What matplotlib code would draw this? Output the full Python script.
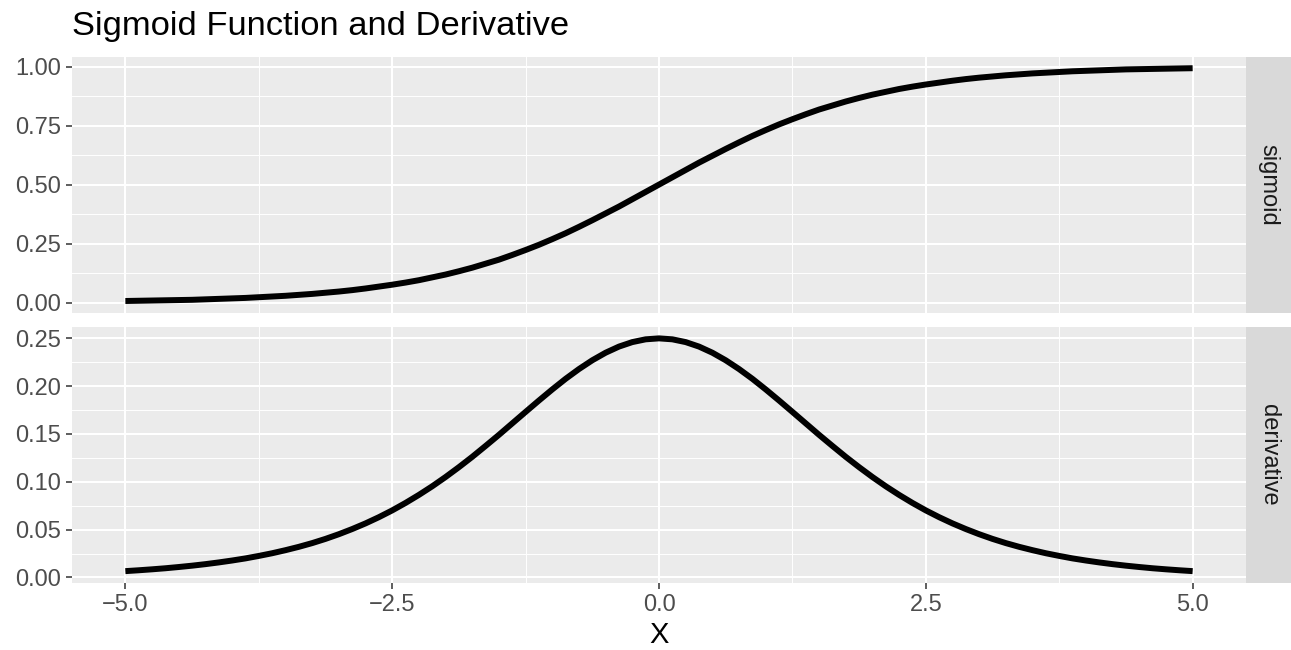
import numpy as np
import matplotlib.pyplot as plt

# x positions the curves were read at (every 0.125 from -5 to 5)
x_vals = np.linspace(-5, 5, 81)

# values
sigmoid_vals = [0.007, 0.008, 0.009, 0.010, 0.011, 0.012, 0.014, 0.016, 0.018, 0.020,
                0.023, 0.026, 0.029, 0.033, 0.037, 0.042, 0.047, 0.053, 0.060, 0.068,
                0.076, 0.085, 0.095, 0.107, 0.119, 0.133, 0.148, 0.165, 0.182, 0.202,
                0.223, 0.245, 0.269, 0.294, 0.321, 0.349, 0.378, 0.407, 0.438, 0.469,
                0.500,
                0.531, 0.562, 0.593, 0.622, 0.651, 0.679, 0.706, 0.731, 0.755, 0.777,
                0.798, 0.818, 0.835, 0.852, 0.867, 0.881, 0.893, 0.905, 0.915, 0.924,
                0.932, 0.940, 0.947, 0.953, 0.958, 0.963, 0.967, 0.971, 0.974, 0.977,
                0.980, 0.982, 0.984, 0.986, 0.988, 0.989, 0.990, 0.991, 0.992, 0.993]

# values
derivative_vals = [0.0066, 0.0075, 0.0085, 0.0096, 0.0109, 0.0123, 0.0139, 0.0157, 0.0177, 0.0199,
                   0.0225, 0.0253, 0.0285, 0.0320, 0.0359, 0.0403, 0.0452, 0.0506, 0.0565, 0.0630,
                   0.0701, 0.0779, 0.0863, 0.0953, 0.1050, 0.1153, 0.1261, 0.1375, 0.1491, 0.1611,
                   0.1731, 0.1850, 0.1966, 0.2077, 0.2179, 0.2271, 0.2350, 0.2414, 0.2461, 0.2490,
                   0.2500,
                   0.2490, 0.2461, 0.2414, 0.2350, 0.2271, 0.2179, 0.2077, 0.1966, 0.1850, 0.1731,
                   0.1611, 0.1491, 0.1375, 0.1261, 0.1153, 0.1050, 0.0953, 0.0863, 0.0779, 0.0701,
                   0.0630, 0.0565, 0.0506, 0.0452, 0.0403, 0.0359, 0.0320, 0.0285, 0.0253, 0.0225,
                   0.0199, 0.0177, 0.0157, 0.0139, 0.0123, 0.0109, 0.0096, 0.0085, 0.0075, 0.0066]

panel_names = ["sigmoid", "derivative"]
x_ticks = [-5.0, -2.5, 0.0, 2.5, 5.0]
x_tick_labels = ["\u22125.0", "\u22122.5", "0.0", "2.5", "5.0"]
top_ticks = [0.00, 0.25, 0.50, 0.75, 1.00]
bottom_ticks = [0.00, 0.05, 0.10, 0.15, 0.20, 0.25]

plt.rcParams['font.family'] = ['Liberation Sans', 'DejaVu Sans']

W, H = 1291, 650
fig = plt.figure(figsize=(W / 100, H / 100), dpi=100)

left = 72 / W
width = 1174 / W
strip_w = 45 / W


def style_panel(ax, yticks, ylim, show_x):
    ax.set_facecolor('#EBEBEB')
    for s in ax.spines.values():
        s.set_visible(False)
    ax.set_xlim(-5.5, 5.5)
    ax.set_ylim(*ylim)
    ax.set_xticks(x_ticks)
    ax.set_xticks([-3.75, -1.25, 1.25, 3.75], minor=True)
    ax.set_yticks(yticks)
    step = yticks[1] - yticks[0]
    ax.set_yticks([t + step / 2 for t in yticks[:-1]], minor=True)
    ax.set_yticklabels(["%.2f" % t for t in yticks])
    ax.grid(which='major', color='white', linewidth=1.45)
    ax.grid(which='minor', color='white', linewidth=0.7)
    ax.set_axisbelow(True)
    ax.tick_params(which='major', length=4.5, width=1.1, color='#333333',
                   labelsize=17, labelcolor='#4D4D4D', pad=3.5)
    ax.tick_params(which='minor', length=0)
    if show_x:
        ax.set_xticklabels(x_tick_labels)
    else:
        ax.tick_params(axis='x', which='major', length=0, labelbottom=False)


# top panel: sigmoid
ax1 = fig.add_axes([left, (H - 312.7) / H, width, 256.2 / H])
ax1.plot(x_vals, sigmoid_vals, color='black', lw=4.3, solid_capstyle='butt')
style_panel(ax1, top_ticks, (-0.0426, 1.0426), False)

# bottom panel: derivative
ax2 = fig.add_axes([left, (H - 582.7) / H, width, 256.0 / H])
ax2.plot(x_vals, derivative_vals, color='black', lw=4.3, solid_capstyle='butt')
style_panel(ax2, bottom_ticks, (-0.0055, 0.2622), True)
ax2.set_xlabel("X", fontsize=21, color='black', labelpad=4)

# facet strips on the right
for ax, name in zip([ax1, ax2], panel_names):
    pos = ax.get_position()
    sax = fig.add_axes([pos.x1, pos.y0, strip_w, pos.height])
    sax.set_facecolor('#D9D9D9')
    sax.set_xticks([])
    sax.set_yticks([])
    for s in sax.spines.values():
        s.set_visible(False)
    sax.text(0.5, 0.5, name, rotation=270, ha='center', va='center',
             fontsize=17, color='#1A1A1A', transform=sax.transAxes)

fig.text(left, (H - 34.5) / H, "Sigmoid Function and Derivative",
         fontsize=24.8, color='black', ha='left', va='baseline')

plt.savefig("out.png", dpi=100)
